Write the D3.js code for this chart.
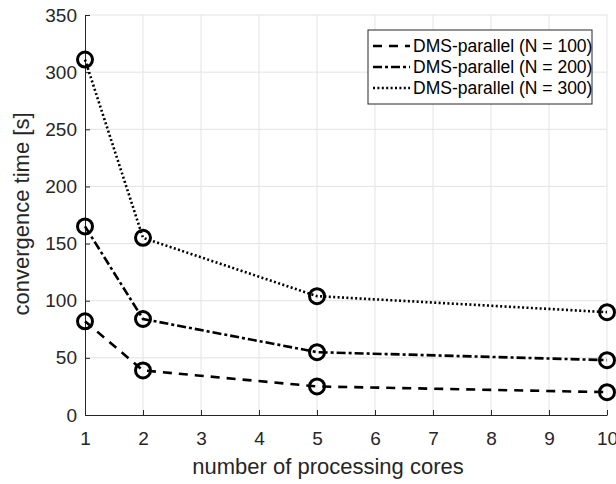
<!DOCTYPE html>
<html>
<head>
<meta charset="utf-8">
<script src="https://cdn.jsdelivr.net/npm/d3@7"></script>
<style>
  body { margin: 0; background: #fff; }
  svg { display: block; font-family: "Liberation Sans", Arial, sans-serif; }
</style>
</head>
<body>
<div id="chart"></div>
<script>
// Data
const cores = [1, 2, 5, 10];
const timeN100 = [82, 39, 25, 20];
const timeN200 = [165, 84, 55, 48];
const timeN300 = [311, 155, 104, 90];
const seriesNames = ["DMS-parallel (N = 100)", "DMS-parallel (N = 200)", "DMS-parallel (N = 300)"];
const xTicks = [1, 2, 3, 4, 5, 6, 7, 8, 9, 10];
const yTicks = [0, 50, 100, 150, 200, 250, 300, 350];

const dashes = ["9,7", "9,3,3,3", "2,2.4"];
const series = [timeN100, timeN200, timeN300];

const svg = d3.select("#chart").append("svg")
    .attr("width", 616)
    .attr("height", 484);

const margin = { top: 15, right: 9, bottom: 69, left: 85 };
const width = 616 - margin.left - margin.right;
const height = 484 - margin.top - margin.bottom;

const g = svg.append("g").attr("transform", `translate(${margin.left},${margin.top})`);

const x = d3.scaleLinear().domain([1, 10]).range([0, width]);
const y = d3.scaleLinear().domain([0, 350]).range([height, 0]);

// grid
g.append("g").selectAll("line")
    .data(xTicks.slice(1))
    .enter().append("line")
    .attr("x1", d => x(d)).attr("x2", d => x(d))
    .attr("y1", 0).attr("y2", height)
    .attr("stroke", "#e3e3e3").attr("stroke-width", 1);

g.append("g").selectAll("line")
    .data(yTicks.slice(1))
    .enter().append("line")
    .attr("x1", 0).attr("x2", width)
    .attr("y1", d => y(d)).attr("y2", d => y(d))
    .attr("stroke", "#e3e3e3").attr("stroke-width", 1);

// axes, inward ticks
const xAxis = g.append("g")
    .attr("transform", `translate(0,${height})`)
    .call(d3.axisBottom(x).tickValues(xTicks).tickSize(-5).tickPadding(17).tickSizeOuter(0));

const yAxis = g.append("g")
    .call(d3.axisLeft(y).tickValues(yTicks).tickSize(-5).tickPadding(8).tickSizeOuter(0));

[xAxis, yAxis].forEach(a => {
    a.select(".domain").attr("stroke", "#262626").attr("stroke-width", 1);
    a.selectAll(".tick line").attr("stroke", "#262626");
    a.selectAll("text").attr("fill", "#262626").style("font-size", "19px");
});

// axis labels
svg.append("text")
    .attr("x", 328)
    .attr("y", 474)
    .attr("text-anchor", "middle")
    .attr("fill", "#262626")
    .style("font-size", "22px")
    .text("number of processing cores");

svg.append("text")
    .attr("transform", `translate(29,${margin.top + height / 2 - 1}) rotate(-90)`)
    .attr("text-anchor", "middle")
    .attr("fill", "#262626")
    .style("font-size", "22px")
    .text("convergence time [s]");

// lines and markers
const line = d3.line()
    .x((d, i) => x(cores[i]))
    .y(d => y(d));

series.forEach((s, k) => {
    g.append("path")
        .datum(s)
        .attr("fill", "none")
        .attr("stroke", "#000")
        .attr("stroke-width", 2.6)
        .attr("stroke-dasharray", dashes[k])
        .attr("d", line);

    g.append("g").selectAll("circle")
        .data(s)
        .enter().append("circle")
        .attr("cx", (d, i) => x(cores[i]))
        .attr("cy", d => y(d))
        .attr("r", 7.5)
        .attr("fill", "none")
        .attr("stroke", "#000")
        .attr("stroke-width", 3);
});

// legend
const lg = svg.append("g").attr("transform", "translate(368,30)");
lg.append("rect")
    .attr("width", 224).attr("height", 74)
    .attr("fill", "#fff")
    .attr("stroke", "#262626").attr("stroke-width", 1);

seriesNames.forEach((name, k) => {
    const yy = 16 + k * 21;
    lg.append("line")
        .attr("x1", 5).attr("x2", 42)
        .attr("y1", yy).attr("y2", yy)
        .attr("stroke", "#000")
        .attr("stroke-width", 2.6)
        .attr("stroke-dasharray", dashes[k]);
    lg.append("text")
        .attr("x", 45).attr("y", yy + 6)
        .attr("fill", "#000")
        .style("font-size", "17.5px")
        .text(name);
});
</script>
</body>
</html>
